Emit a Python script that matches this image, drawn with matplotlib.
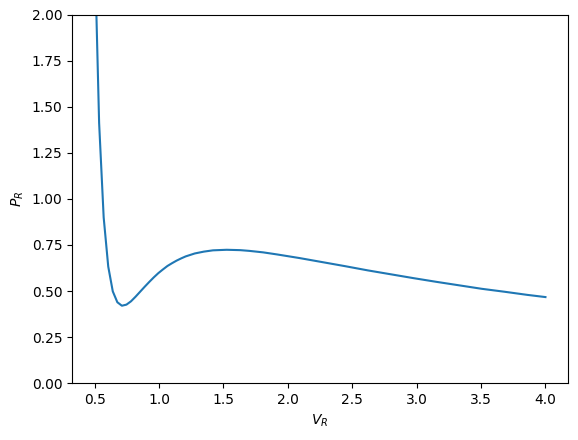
import matplotlib
matplotlib.use("Agg")
import matplotlib.pyplot as plt

# reduced volume / reduced pressure
v_r = [0.5, 0.5354, 0.5707, 0.6061, 0.6414, 0.6768, 0.7121, 0.7475, 0.7828,
       0.8182, 0.8535, 0.8889, 0.9242, 0.9596, 0.9949, 1.0303, 1.0657,
       1.1010, 1.1364, 1.1717, 1.2071, 1.2778, 1.3485, 1.4192, 1.5253,
       1.6313, 1.7020, 1.8081, 1.9141, 2.0909, 2.2677, 2.4444, 2.6212,
       2.7980, 2.9747, 3.1515, 3.3283, 3.5051, 3.6818, 3.8586, 4.0]
p_r = [2.400, 1.413, 0.900, 0.633, 0.498, 0.439, 0.420, 0.426, 0.444,
       0.469, 0.496, 0.523, 0.549, 0.574, 0.597, 0.617, 0.636,
       0.651, 0.665, 0.677, 0.688, 0.704, 0.714, 0.721, 0.724,
       0.722, 0.718, 0.710, 0.699, 0.679, 0.657, 0.635, 0.612,
       0.591, 0.570, 0.550, 0.531, 0.512, 0.496, 0.479, 0.467]

fig = plt.figure(figsize=(5.78, 4.4), dpi=100)
ax = fig.add_axes([0.1246, 0.1295, 0.8581, 0.8365])
ax.plot(v_r, p_r)
ax.set_ylim(0, 2)
ax.set_xlabel("$V_R$")
ax.set_ylabel("$P_R$")
fig.savefig("out.png", dpi=100)
